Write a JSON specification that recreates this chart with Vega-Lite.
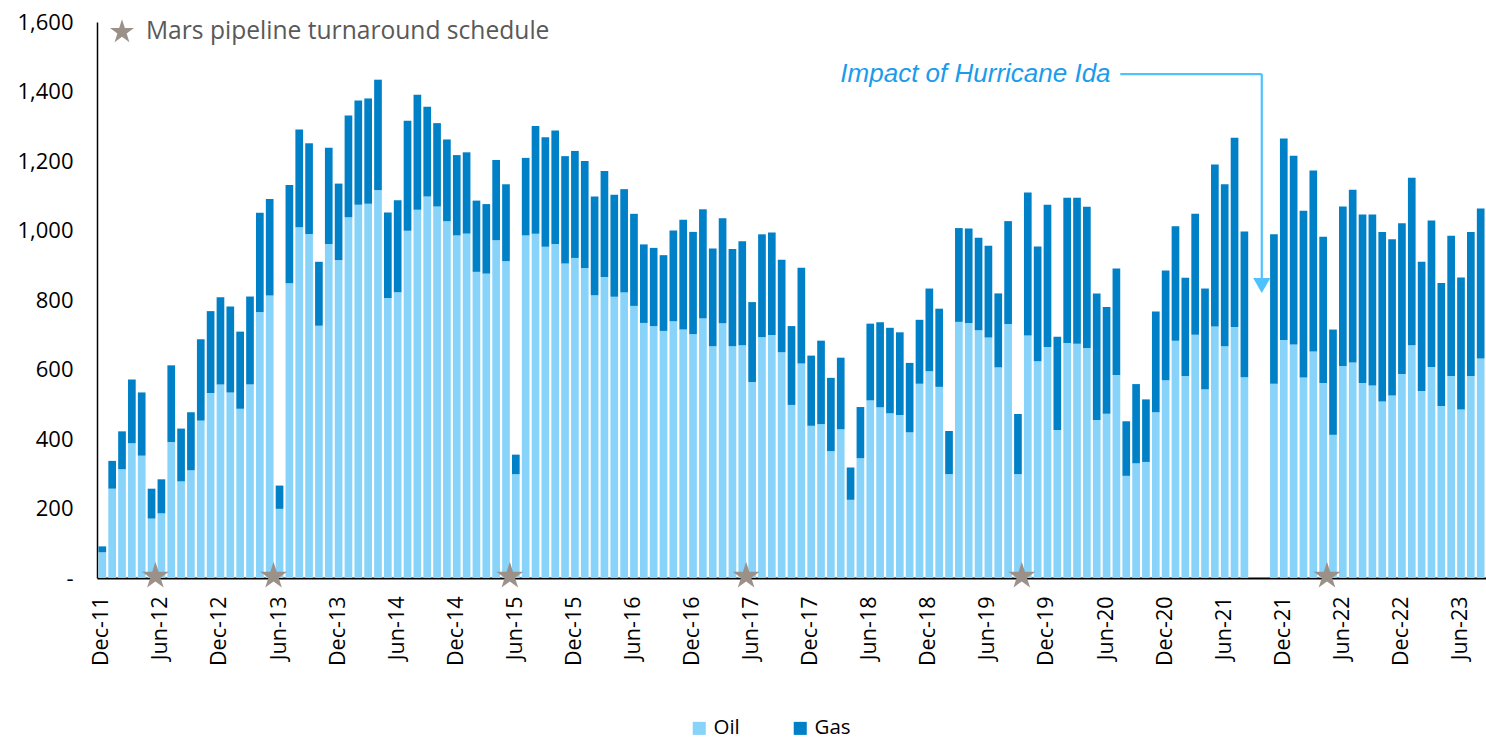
{
  "$schema": "https://vega.github.io/schema/vega-lite/v6.json",
  "width": 1389,
  "height": 556,
  "autosize": {"type": "none"},
  "padding": {"left": 97, "top": 22, "right": 0, "bottom": 161},
  "background": "white",
  "config": {"view": {"stroke": null}, "font": "Open Sans"},
  "datasets": {
    "production": [
      {"m":"Dec-11","Oil":74,"Gas":17},{"m":"Jan-12","Oil":257,"Gas":80},{"m":"Feb-12","Oil":313,"Gas":109},{"m":"Mar-12","Oil":388,"Gas":183},{"m":"Apr-12","Oil":352,"Gas":182},{"m":"May-12","Oil":171,"Gas":86},{"m":"Jun-12","Oil":186,"Gas":98},{"m":"Jul-12","Oil":391,"Gas":221},{"m":"Aug-12","Oil":278,"Gas":152},{"m":"Sep-12","Oil":310,"Gas":167},{"m":"Oct-12","Oil":453,"Gas":234},{"m":"Nov-12","Oil":532,"Gas":236},{"m":"Dec-12","Oil":557,"Gas":251},
      {"m":"Jan-13","Oil":534,"Gas":247},{"m":"Feb-13","Oil":487,"Gas":222},{"m":"Mar-13","Oil":557,"Gas":253},{"m":"Apr-13","Oil":765,"Gas":286},{"m":"May-13","Oil":813,"Gas":278},{"m":"Jun-13","Oil":199,"Gas":67},{"m":"Jul-13","Oil":848,"Gas":283},{"m":"Aug-13","Oil":1009,"Gas":282},{"m":"Sep-13","Oil":990,"Gas":261},{"m":"Oct-13","Oil":726,"Gas":184},{"m":"Nov-13","Oil":961,"Gas":277},{"m":"Dec-13","Oil":915,"Gas":220},
      {"m":"Jan-14","Oil":1038,"Gas":293},{"m":"Feb-14","Oil":1074,"Gas":300},{"m":"Mar-14","Oil":1077,"Gas":303},{"m":"Apr-14","Oil":1116,"Gas":318},{"m":"May-14","Oil":806,"Gas":246},{"m":"Jun-14","Oil":822,"Gas":265},{"m":"Jul-14","Oil":999,"Gas":317},{"m":"Aug-14","Oil":1060,"Gas":331},{"m":"Sep-14","Oil":1098,"Gas":258},{"m":"Oct-14","Oil":1069,"Gas":240},{"m":"Nov-14","Oil":1027,"Gas":235},{"m":"Dec-14","Oil":986,"Gas":231},
      {"m":"Jan-15","Oil":991,"Gas":234},{"m":"Feb-15","Oil":881,"Gas":205},{"m":"Mar-15","Oil":876,"Gas":200},{"m":"Apr-15","Oil":972,"Gas":231},{"m":"May-15","Oil":912,"Gas":221},{"m":"Jun-15","Oil":299,"Gas":56},{"m":"Jul-15","Oil":986,"Gas":223},{"m":"Aug-15","Oil":991,"Gas":310},{"m":"Sep-15","Oil":953,"Gas":315},{"m":"Oct-15","Oil":961,"Gas":327},{"m":"Nov-15","Oil":905,"Gas":309},{"m":"Dec-15","Oil":921,"Gas":308},
      {"m":"Jan-16","Oil":892,"Gas":308},{"m":"Feb-16","Oil":814,"Gas":284},{"m":"Mar-16","Oil":866,"Gas":305},{"m":"Apr-16","Oil":809,"Gas":294},{"m":"May-16","Oil":822,"Gas":297},{"m":"Jun-16","Oil":783,"Gas":265},{"m":"Jul-16","Oil":734,"Gas":226},{"m":"Aug-16","Oil":725,"Gas":225},{"m":"Sep-16","Oil":711,"Gas":218},{"m":"Oct-16","Oil":739,"Gas":261},{"m":"Nov-16","Oil":715,"Gas":316},{"m":"Dec-16","Oil":702,"Gas":294},
      {"m":"Jan-17","Oil":747,"Gas":314},{"m":"Feb-17","Oil":667,"Gas":281},{"m":"Mar-17","Oil":733,"Gas":302},{"m":"Apr-17","Oil":667,"Gas":280},{"m":"May-17","Oil":670,"Gas":299},{"m":"Jun-17","Oil":564,"Gas":230},{"m":"Jul-17","Oil":693,"Gas":296},{"m":"Aug-17","Oil":699,"Gas":295},{"m":"Sep-17","Oil":650,"Gas":266},{"m":"Oct-17","Oil":498,"Gas":227},{"m":"Nov-17","Oil":617,"Gas":276},{"m":"Dec-17","Oil":438,"Gas":202},
      {"m":"Jan-18","Oil":443,"Gas":240},{"m":"Feb-18","Oil":365,"Gas":211},{"m":"Mar-18","Oil":428,"Gas":206},{"m":"Apr-18","Oil":225,"Gas":93},{"m":"May-18","Oil":345,"Gas":147},{"m":"Jun-18","Oil":511,"Gas":221},{"m":"Jul-18","Oil":491,"Gas":245},{"m":"Aug-18","Oil":474,"Gas":246},{"m":"Sep-18","Oil":469,"Gas":238},{"m":"Oct-18","Oil":419,"Gas":200},{"m":"Nov-18","Oil":559,"Gas":184},{"m":"Dec-18","Oil":595,"Gas":238},
      {"m":"Jan-19","Oil":550,"Gas":225},{"m":"Feb-19","Oil":299,"Gas":124},{"m":"Mar-19","Oil":737,"Gas":270},{"m":"Apr-19","Oil":734,"Gas":272},{"m":"May-19","Oil":713,"Gas":266},{"m":"Jun-19","Oil":692,"Gas":264},{"m":"Jul-19","Oil":606,"Gas":213},{"m":"Aug-19","Oil":731,"Gas":296},{"m":"Sep-19","Oil":299,"Gas":173},{"m":"Oct-19","Oil":698,"Gas":411},{"m":"Nov-19","Oil":624,"Gas":330},{"m":"Dec-19","Oil":665,"Gas":409},
      {"m":"Jan-20","Oil":426,"Gas":268},{"m":"Feb-20","Oil":676,"Gas":418},{"m":"Mar-20","Oil":674,"Gas":420},{"m":"Apr-20","Oil":662,"Gas":406},{"m":"May-20","Oil":455,"Gas":364},{"m":"Jun-20","Oil":473,"Gas":307},{"m":"Jul-20","Oil":584,"Gas":307},{"m":"Aug-20","Oil":294,"Gas":157},{"m":"Sep-20","Oil":330,"Gas":228},{"m":"Oct-20","Oil":334,"Gas":180},{"m":"Nov-20","Oil":477,"Gas":290},{"m":"Dec-20","Oil":569,"Gas":316},
      {"m":"Jan-21","Oil":683,"Gas":329},{"m":"Feb-21","Oil":581,"Gas":283},{"m":"Mar-21","Oil":700,"Gas":348},{"m":"Apr-21","Oil":543,"Gas":290},{"m":"May-21","Oil":724,"Gas":466},{"m":"Jun-21","Oil":667,"Gas":466},{"m":"Jul-21","Oil":722,"Gas":545},{"m":"Aug-21","Oil":578,"Gas":419},{"m":"Nov-21","Oil":559,"Gas":430},{"m":"Dec-21","Oil":685,"Gas":580},
      {"m":"Jan-22","Oil":672,"Gas":543},{"m":"Feb-22","Oil":577,"Gas":480},{"m":"Mar-22","Oil":652,"Gas":521},{"m":"Apr-22","Oil":561,"Gas":421},{"m":"May-22","Oil":412,"Gas":303},{"m":"Jun-22","Oil":610,"Gas":459},{"m":"Jul-22","Oil":620,"Gas":497},{"m":"Aug-22","Oil":561,"Gas":485},{"m":"Sep-22","Oil":554,"Gas":492},{"m":"Oct-22","Oil":508,"Gas":488},{"m":"Nov-22","Oil":525,"Gas":450},{"m":"Dec-22","Oil":587,"Gas":434},
      {"m":"Jan-23","Oil":670,"Gas":482},{"m":"Feb-23","Oil":538,"Gas":372},{"m":"Mar-23","Oil":607,"Gas":422},{"m":"Apr-23","Oil":495,"Gas":354},{"m":"May-23","Oil":581,"Gas":404},{"m":"Jun-23","Oil":485,"Gas":380},{"m":"Jul-23","Oil":581,"Gas":415},{"m":"Aug-23","Oil":632,"Gas":431}
    ],
    "turnarounds": [
      {"m":"May-12"},{"m":"May-13"},{"m":"May-15"},{"m":"May-17"},{"m":"Sep-19"},{"m":"Apr-22"}
    ],
    "annotation": [
      {"label": "Impact of Hurricane Ida"}
    ]
  },
  "layer": [
    {
      "data": {"name": "production"},
      "transform": [{"fold": ["Oil", "Gas"], "as": ["type", "value"]}],
      "mark": {"type": "bar"},
      "encoding": {
        "x": {
          "field": "m", "type": "ordinal",
          "scale": {
            "domain": ["Dec-11","Jan-12","Feb-12","Mar-12","Apr-12","May-12","Jun-12","Jul-12","Aug-12","Sep-12","Oct-12","Nov-12","Dec-12","Jan-13","Feb-13","Mar-13","Apr-13","May-13","Jun-13","Jul-13","Aug-13","Sep-13","Oct-13","Nov-13","Dec-13","Jan-14","Feb-14","Mar-14","Apr-14","May-14","Jun-14","Jul-14","Aug-14","Sep-14","Oct-14","Nov-14","Dec-14","Jan-15","Feb-15","Mar-15","Apr-15","May-15","Jun-15","Jul-15","Aug-15","Sep-15","Oct-15","Nov-15","Dec-15","Jan-16","Feb-16","Mar-16","Apr-16","May-16","Jun-16","Jul-16","Aug-16","Sep-16","Oct-16","Nov-16","Dec-16","Jan-17","Feb-17","Mar-17","Apr-17","May-17","Jun-17","Jul-17","Aug-17","Sep-17","Oct-17","Nov-17","Dec-17","Jan-18","Feb-18","Mar-18","Apr-18","May-18","Jun-18","Jul-18","Aug-18","Sep-18","Oct-18","Nov-18","Dec-18","Jan-19","Feb-19","Mar-19","Apr-19","May-19","Jun-19","Jul-19","Aug-19","Sep-19","Oct-19","Nov-19","Dec-19","Jan-20","Feb-20","Mar-20","Apr-20","May-20","Jun-20","Jul-20","Aug-20","Sep-20","Oct-20","Nov-20","Dec-20","Jan-21","Feb-21","Mar-21","Apr-21","May-21","Jun-21","Jul-21","Aug-21","Sep-21","Oct-21","Nov-21","Dec-21","Jan-22","Feb-22","Mar-22","Apr-22","May-22","Jun-22","Jul-22","Aug-22","Sep-22","Oct-22","Nov-22","Dec-22","Jan-23","Feb-23","Mar-23","Apr-23","May-23","Jun-23","Jul-23","Aug-23"],
            "paddingInner": 0.22, "paddingOuter": 0.15
          },
          "axis": {
            "title": null,
            "values": ["Dec-11","Jun-12","Dec-12","Jun-13","Dec-13","Jun-14","Dec-14","Jun-15","Dec-15","Jun-16","Dec-16","Jun-17","Dec-17","Jun-18","Dec-18","Jun-19","Dec-19","Jun-20","Dec-20","Jun-21","Dec-21","Jun-22","Dec-22","Jun-23"],
            "labelAngle": -90, "labelFont": "Open Sans", "labelFontSize": 21.5, "labelColor": "#000000",
            "labelPadding": 18, "ticks": false, "domainColor": "#000000", "domainWidth": 2, "grid": false
          }
        },
        "y": {
          "field": "value", "type": "quantitative", "stack": "zero",
          "scale": {"domain": [0, 1600], "nice": false},
          "axis": {
            "title": null, "values": [0,200,400,600,800,1000,1200,1400,1600],
            "labelExpr": "datum.value == 0 ? '-' : format(datum.value, ',')",
            "labelFont": "Open Sans", "labelFontSize": 22, "labelColor": "#000000",
            "labelPadding": 24, "ticks": false, "grid": false, "domainColor": "#000000", "domainWidth": 1.5
          }
        },
        "color": {
          "field": "type", "type": "nominal",
          "scale": {"domain": ["Oil", "Gas"], "range": ["#87D3FA", "#0080C6"]},
          "legend": {
            "title": null, "orient": "none", "direction": "horizontal",
            "legendX": 592, "legendY": 696,
            "symbolType": "square", "symbolSize": 170, "symbolStrokeWidth": 0,
            "labelFont": "Open Sans", "labelFontSize": 20.5, "labelColor": "#000000",
            "labelOffset": 4, "columnPadding": 50
          }
        },
        "order": {"field": "type", "sort": "descending"}
      }
    },
    {
      "data": {"name": "turnarounds"},
      "mark": {"type": "point", "filled": true, "color": "#9C9189", "opacity": 1, "size": 800, "yOffset": -2},
      "encoding": {
        "x": {"field": "m", "type": "ordinal", "bandPosition": 1},
        "y": {"datum": 0, "type": "quantitative"},
        "shape": {
          "datum": "Mars pipeline turnaround schedule",
          "scale": {"range": ["M0,-1L0.2245,-0.309L0.9511,-0.309L0.3633,0.118L0.5878,0.809L0,0.382L-0.5878,0.809L-0.3633,0.118L-0.9511,-0.309L-0.2245,-0.309Z"]},
          "legend": {
            "title": null, "orient": "none", "legendX": 12, "legendY": -3,
            "symbolSize": 640, "symbolFillColor": "#9C9189", "symbolStrokeWidth": 0, "symbolOpacity": 1,
            "labelFont": "Open Sans", "labelFontSize": 24.6, "labelColor": "#595959", "labelOffset": 11, "labelLimit": 700
          }
        }
      }
    },
    {
      "data": {"name": "annotation"},
      "mark": {"type": "rule", "color": "#4DC2FF", "strokeWidth": 2.2},
      "encoding": {
        "x": {"datum": "Jul-20", "bandPosition": 1},
        "x2": {"datum": "Oct-21", "bandPosition": 0.2},
        "y": {"datum": 1450, "type": "quantitative"}
      }
    },
    {
      "data": {"name": "annotation"},
      "mark": {"type": "rule", "color": "#4DC2FF", "strokeWidth": 2.2},
      "encoding": {
        "x": {"datum": "Oct-21", "bandPosition": 0.2},
        "y": {"datum": 1450, "type": "quantitative"},
        "y2": {"datum": 862}
      }
    },
    {
      "data": {"name": "annotation"},
      "mark": {"type": "point", "shape": "triangle-down", "filled": true, "color": "#4DC2FF", "opacity": 1, "size": 300},
      "encoding": {
        "x": {"datum": "Oct-21", "bandPosition": 0.2},
        "y": {"datum": 842, "type": "quantitative"}
      }
    },
    {
      "data": {"name": "annotation"},
      "mark": {"type": "text", "font": "Liberation Sans", "fontStyle": "italic", "fontSize": 26, "color": "#1A9CEB", "align": "right", "baseline": "middle", "dx": -2},
      "encoding": {
        "text": {"field": "label"},
        "x": {"datum": "Jul-20", "bandPosition": 0},
        "y": {"datum": 1450, "type": "quantitative"}
      }
    }
  ]
}
